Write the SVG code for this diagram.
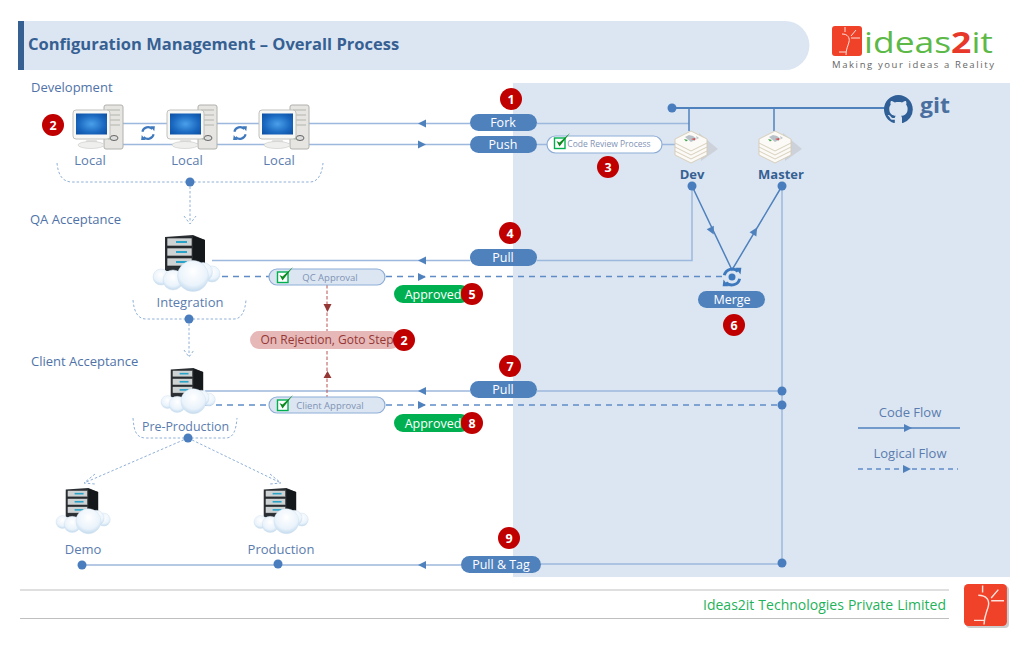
<svg xmlns="http://www.w3.org/2000/svg" width="1024" height="647" viewBox="0 0 1024 647">
<style>
text{font-family:"Open Sans","Noto Sans","Liberation Sans",sans-serif}
.lb{font-size:13px;fill:#5a7cae;text-anchor:middle}
.sec{font-size:13px;fill:#4f73a8}
.sol{fill:none;stroke:#9db8dd;stroke-width:1.5}
.str{fill:none;stroke:#4f81bd;stroke-width:1.5}
.das{fill:none;stroke:#5f8cc6;stroke-width:1.5;stroke-dasharray:6 5}
.dot{fill:none;stroke:#8fb0d8;stroke-width:1;stroke-dasharray:2.5 2}
.pill{fill:#4f81bd}
.pt{font-size:12.5px;fill:#fff;text-anchor:middle}
.gp{fill:#00b050}
.ap{fill:#dce6f2;stroke:#8eadd6;stroke-width:1.2}
.at{font-size:9.5px;fill:#7f93b5;text-anchor:middle}
.bt{font-size:12.5px;font-weight:700;fill:#fff;text-anchor:middle}
.d{fill:#4a7dbd}
</style>
<defs>
<g id="tri"><path d="M-4 -4L4 0L-4 4Z" fill="#4f81bd"/></g>
<g id="check"><rect x="0.500" y="5" width="10.500" height="10.500" fill="#fff" stroke="#00b050" stroke-width="1.400"/><path d="M2.500 8L5.500 13.500L16 0L5.500 9.500Z" fill="#0b8a1e"/></g>
<g id="sync"><path d="M-4.500 -1A4.700 4.700 0 0 1 3.500 -3.200M4.500 1A4.700 4.700 0 0 1 -3.500 3.200" fill="none" stroke="#3f79bd" stroke-width="1.700"/><path d="M2 -5.500L5.500 -5.500L5 -1.500ZM-2 5.500L-5.500 5.500L-5 1.500Z" fill="#3f79bd"/></g>
<radialGradient id="scr" cx=".5" cy=".5" r=".7"><stop offset="0" stop-color="#4aa0ea"/><stop offset=".6" stop-color="#1a68c0"/><stop offset="1" stop-color="#0c4ea0"/></radialGradient>
<radialGradient id="cl" cx=".5" cy=".35" r=".7"><stop offset="0" stop-color="#fff"/><stop offset=".65" stop-color="#eaf3fb"/><stop offset="1" stop-color="#b8d3ea"/></radialGradient>
<g id="pc">
<rect x="31" y="0" width="19" height="44" rx="2" fill="#e6e5e1" stroke="#b0b0ac"/>
<path d="M34 5H47M34 10H47M34 15H47M34 20H47" stroke="#c5c5c0" stroke-width="1.500"/>
<ellipse cx="41" cy="33" rx="4" ry="2.500" fill="#ddd" stroke="#666"/><circle cx="36" cy="33" r="1.500" fill="#8a8"/>
<rect x="0" y="5" width="37" height="29" rx="3" fill="#f7f7f5" stroke="#c0c0be"/>
<rect x="3" y="8.500" width="31" height="21" fill="url(#scr)"/>
<path d="M14 34H23L25 38H12Z" fill="#e0e0de"/>
<ellipse cx="18" cy="40" rx="13" ry="3.500" fill="#efefed" stroke="#cfcfcd" stroke-width=".7"/>
</g>
<g id="srv">
<path d="M12 2L40 0L52 5V36H12Z" fill="#2b2f33"/>
<path d="M40 1L52 5V36H40Z" fill="#15181b"/>
<g fill="#cfd2d2" stroke="#1c1f22" stroke-width=".6"><rect x="14" y="3" width="25" height="8"/><rect x="14" y="13" width="25" height="8"/><rect x="14" y="23" width="25" height="8"/></g>
<g fill="#2aa3c9"><rect x="23" y="6" width="11" height="2"/><rect x="23" y="16" width="11" height="2"/><rect x="23" y="26" width="11" height="2"/></g>
<g fill="url(#cl)" stroke="#cfe0f0" stroke-width=".5">
<circle cx="8" cy="42" r="8"/><circle cx="59" cy="39" r="8"/><circle cx="50" cy="37" r="9.500"/><circle cx="20" cy="45" r="10"/><circle cx="40" cy="41" r="15.500"/></g>
</g>
<g id="stack">
<path d="M24 4L43 20L26 32Z" fill="#cdd2da"/>
<g fill="#fbfaf6" stroke="#d5cbb6" stroke-width=".9">
<path d="M0 22L16 14L32 22V26L16 34L0 26Z"/>
<path d="M0 18L16 10L32 18V22L16 30L0 22Z"/>
<path d="M0 14L16 6L32 14V18L16 26L0 18Z"/>
<path d="M0 10L16 2L32 10V14L16 22L0 14Z"/>
</g>
<path d="M10 8L14 6L18 7L22 10L16 13ZM21 7L24 9L22 10Z" fill="#a9b3bd" opacity=".8"/>
<path d="M9 10L13 11L11 12.500Z" fill="#3aa04a"/><path d="M16 10L20 9L20 11.500Z" fill="#d25050"/>
</g>
<g id="ideamark">
<rect width="30" height="30" rx="3" fill="#f04129"/>
<path d="M13 1V6M10 8C16 8 18 12 17 16C16 20 14 23 14 29M19 10L24 4M19 12H28M7 26H14" fill="none" stroke="#fde3dc" stroke-width="1"/>
</g>
</defs>

<rect x="513" y="83" width="497" height="494" fill="#dce6f2"/>
<g id="title">
<path d="M18 21H785A24.500 24.500 0 0 1 785 70H18Z" fill="#dce6f2"/>
<rect x="18" y="21" width="6" height="49" fill="#366092"/>
<text x="28" y="50" font-size="16.500" font-weight="700" fill="#366092">Configuration Management – Overall Process</text>
</g>
<g id="logo">
<use href="#ideamark" x="832" y="26"/>
<text x="864" y="53" font-size="29" font-family="Lato" fill="#5cb947" textLength="129" lengthAdjust="spacingAndGlyphs">ideas<tspan fill="#e8382a" font-weight="700">2</tspan>it</text>
<text x="832" y="68" font-size="9.500" font-family="Liberation Sans" fill="#666" textLength="162">Making your ideas a Reality</text>
</g>

<g id="connectors">
<path class="sol" d="M122 123.500H470M537 123.500H689M122 144.500H470M537 144.500H547M662 144.500H676"/>
<path class="str" d="M689 108V131M774 108V131"/>
<path d="M672 108H886" fill="none" stroke="#4f81bd" stroke-width="2"/>
<path class="sol" d="M212 260.500H470M537 260.500H692V186"/>
<path class="sol" d="M205 391H470M537 391H782"/>
<path class="sol" d="M82 565H461M541 564H782"/>
<path class="sol" d="M782 186V564"/>
<path class="str" d="M692 186L732 270L782 186"/>
<path class="das" d="M222 276.500H269M386 276.500H724"/>
<path class="das" d="M205 405H269M386 405H782"/>
<path d="M327 285V397" fill="none" stroke="#b85450" stroke-width="1" stroke-dasharray="3.500 2"/>
<path d="M327.500 312L323.500 304H331.500ZM327.500 371L331.500 378H323.500Z" fill="#953735"/>
<path class="dot" d="M57 163C58 174 62 182 72 182H310C318 182 322 174 323 163"/>
<path class="dot" d="M190 182V222M184 216L190 224L196 216"/>
<path class="dot" d="M133 300C134 312 138 319 146 319H234C241 319 245 312 246 300"/>
<path class="dot" d="M189 319V356M184 350L189 357L194 350"/>
<path class="dot" d="M133 418C134 431 136 438 146 438H226C233 438 236 431 237 418"/>
<path class="dot" d="M188 438L84 483M95 474L84 483L95 484M188 438L281 483M270 474L281 483L270 484"/>
<use href="#tri" transform="translate(422 123.500) rotate(180)"/>
<use href="#tri" transform="translate(422 144.500)"/>
<use href="#tri" transform="translate(422 260.500) rotate(180)"/>
<use href="#tri" transform="translate(422 277)"/>
<use href="#tri" transform="translate(422 391) rotate(180)"/>
<use href="#tri" transform="translate(422 405)"/>
<use href="#tri" transform="translate(422 565) rotate(180)"/>
<use href="#tri" transform="translate(712 231) rotate(64)"/>
<use href="#tri" transform="translate(755 231) rotate(-59)"/>
</g>

<g class="d">
<circle cx="672" cy="108" r="4.500"/><circle cx="692" cy="186" r="4.500"/><circle cx="782" cy="186" r="4.500"/>
<circle cx="782" cy="391" r="4.500"/><circle cx="782" cy="405" r="4.500"/><circle cx="782" cy="563" r="4.500"/>
<circle cx="82" cy="565" r="4.500"/><circle cx="278" cy="564" r="4.500"/>
<circle cx="190" cy="182" r="4.500"/><circle cx="189" cy="319" r="4.500"/><circle cx="188" cy="438" r="4.500"/>
</g>

<g id="s-dev"><text x="31" y="92" class="sec">Development</text></g>
<g id="local1"><use href="#pc" x="73" y="105"/><text x="90" y="165" class="lb">Local</text></g>
<g id="local2"><use href="#pc" x="167" y="105"/><text x="187" y="165" class="lb">Local</text></g>
<g id="local3"><use href="#pc" x="259" y="105"/><text x="279" y="165" class="lb">Local</text></g>
<use href="#sync" transform="translate(148 133) scale(1.250)"/><use href="#sync" transform="translate(240 133) scale(1.250)"/>
<g id="s-qa"><text x="30" y="224" class="sec">QA Acceptance</text></g>
<g id="integration"><use href="#srv" transform="translate(153 235)"/><text x="190" y="307" class="lb">Integration</text></g>
<g id="s-client"><text x="31" y="366" class="sec">Client Acceptance</text></g>
<g id="preprod"><use href="#srv" transform="translate(161 368) scale(.81)"/><text x="185.500" y="431" class="lb" style="font-size:12.400px">Pre-Production</text></g>
<g id="demo"><use href="#srv" transform="translate(56 488) scale(.81)"/><text x="83" y="554" class="lb">Demo</text></g>
<g id="production"><use href="#srv" transform="translate(254 488) scale(.81)"/><text x="281" y="554" class="lb">Production</text></g>

<g id="dev"><use href="#stack" x="675" y="129"/><text x="692" y="179" font-size="13" font-weight="700" fill="#366092" text-anchor="middle">Dev</text></g>
<g id="master"><use href="#stack" x="759" y="129"/><text x="781" y="179" font-size="13" font-weight="700" fill="#366092" text-anchor="middle">Master</text></g>

<g id="git">
<path transform="translate(884 95) scale(1.800)" fill="#2f5f96" d="M8 0C3.580 0 0 3.580 0 8c0 3.540 2.290 6.530 5.470 7.590.4.070.55-.17.55-.38 0-.19-.01-.82-.01-1.490-2.010.37-2.530-.49-2.690-.94-.09-.23-.48-.94-.82-1.130-.28-.15-.68-.52-.01-.53.63-.01 1.080.58 1.230.82.720 1.210 1.870.87 2.330.66.070-.52.28-.87.51-1.070-1.780-.2-3.640-.89-3.640-3.950 0-.87.31-1.590.82-2.150-.08-.2-.36-1.020.08-2.120 0 0 .67-.21 2.200.82.64-.18 1.320-.27 2-.27.68 0 1.360.09 2 .27 1.530-1.040 2.200-.82 2.200-.82.44 1.100.16 1.920.08 2.120.51.56.82 1.270.82 2.150 0 3.070-1.870 3.750-3.650 3.950.29.25.54.73.54 1.480 0 1.070-.01 1.930-.01 2.200 0 .21.15.46.55.38A8.013 8.013 0 0016 8c0-4.420-3.580-8-8-8z"/>
<text x="920" y="113" font-size="22" font-weight="700" font-family="DejaVu Serif" fill="#4a6f9f" textLength="30" lengthAdjust="spacingAndGlyphs">git</text>
</g>

<g id="fork"><rect class="pill" x="470" y="114" width="67" height="17" rx="8.500"/><text class="pt" x="503" y="127">Fork</text></g>
<g id="push"><rect class="pill" x="470" y="136" width="67" height="17" rx="8.500"/><text class="pt" x="503" y="149">Push</text></g>
<g id="review"><rect x="547" y="136" width="115" height="17" rx="8.500" fill="#fff" stroke="#8eadd6" stroke-width="1.200"/><use href="#check" x="554" y="133"/><text x="609" y="147" font-size="8.500" fill="#7f93b5" text-anchor="middle">Code Review Process</text></g>
<g id="pull4"><rect class="pill" x="470" y="249" width="67" height="17" rx="8.500"/><text class="pt" x="503" y="262">Pull</text></g>
<g id="qc"><rect class="ap" x="269" y="269" width="116" height="16" rx="8"/><use href="#check" x="277" y="267"/><text class="at" x="330" y="281">QC Approval</text></g>
<g id="client"><rect class="ap" x="269" y="397" width="116" height="16" rx="8"/><use href="#check" x="277" y="395"/><text class="at" x="330" y="409">Client Approval</text></g>
<g id="pull7"><rect class="pill" x="470" y="381" width="67" height="17" rx="8.500"/><text class="pt" x="503" y="394">Pull</text></g>
<g id="pulltag"><rect class="pill" x="461" y="556" width="80" height="17" rx="8.500"/><text class="pt" x="501" y="569">Pull &amp; Tag</text></g>
<g id="approved5"><rect class="gp" x="394" y="285" width="76" height="18" rx="9"/><text class="pt" x="433" y="299">Approved</text></g>
<g id="approved8"><rect class="gp" x="394" y="414" width="76" height="18" rx="9"/><text class="pt" x="433" y="428">Approved</text></g>
<g id="reject"><rect x="250" y="331" width="150" height="18" rx="9" fill="#e6b9b8"/><text x="327" y="344" font-size="12" fill="#953735" text-anchor="middle">On Rejection, Goto Step</text></g>
<g id="merge"><use href="#sync" transform="translate(732 277) scale(1.700)"/><circle cx="732" cy="277" r="3.500" fill="#3f79bd"/><rect class="pill" x="698" y="291" width="67" height="17" rx="8.500"/><text class="pt" x="732" y="304">Merge</text></g>

<g id="badges">
<circle cx="511" cy="99" r="11" fill="#c00000"/><text class="bt" x="511" y="104">1</text>
<circle cx="53" cy="125" r="11" fill="#c00000"/><text class="bt" x="53" y="130">2</text>
<circle cx="608" cy="167" r="11" fill="#c00000"/><text class="bt" x="608" y="172">3</text>
<circle cx="510" cy="233" r="11" fill="#c00000"/><text class="bt" x="510" y="238">4</text>
<circle cx="472" cy="294" r="11" fill="#c00000"/><text class="bt" x="472" y="299">5</text>
<circle cx="404" cy="340" r="11" fill="#c00000"/><text class="bt" x="404" y="345">2</text>
<circle cx="734" cy="325" r="11" fill="#c00000"/><text class="bt" x="734" y="330">6</text>
<circle cx="510" cy="366" r="11" fill="#c00000"/><text class="bt" x="510" y="371">7</text>
<circle cx="472" cy="423" r="11" fill="#c00000"/><text class="bt" x="472" y="428">8</text>
<circle cx="509" cy="538" r="11" fill="#c00000"/><text class="bt" x="509" y="543">9</text>
</g>

<g id="legend">
<text x="910" y="417" class="lb">Code Flow</text>
<path d="M858 428H960" stroke="#4f81bd" stroke-width="1.300" fill="none"/><use href="#tri" transform="translate(908 428)"/>
<text x="910" y="458" class="lb">Logical Flow</text>
<path d="M858 469H958" stroke="#5f8cc6" stroke-width="1.300" stroke-dasharray="5 4" fill="none"/><use href="#tri" transform="translate(907 469)"/>
</g>

<g id="footer">
<path d="M20 590H949M20 618.500H949" stroke="#bfbfbf" stroke-width="1.200" fill="none"/>
<text x="946" y="610" font-size="14" word-spacing=".4" fill="#1fb25a" text-anchor="end">Ideas2it Technologies Private Limited</text>
<rect x="966" y="586" width="43" height="42" rx="4" fill="#999" opacity=".5"/>
<use href="#ideamark" transform="translate(964 584) scale(1.430 1.400)"/>
</g>
</svg>
